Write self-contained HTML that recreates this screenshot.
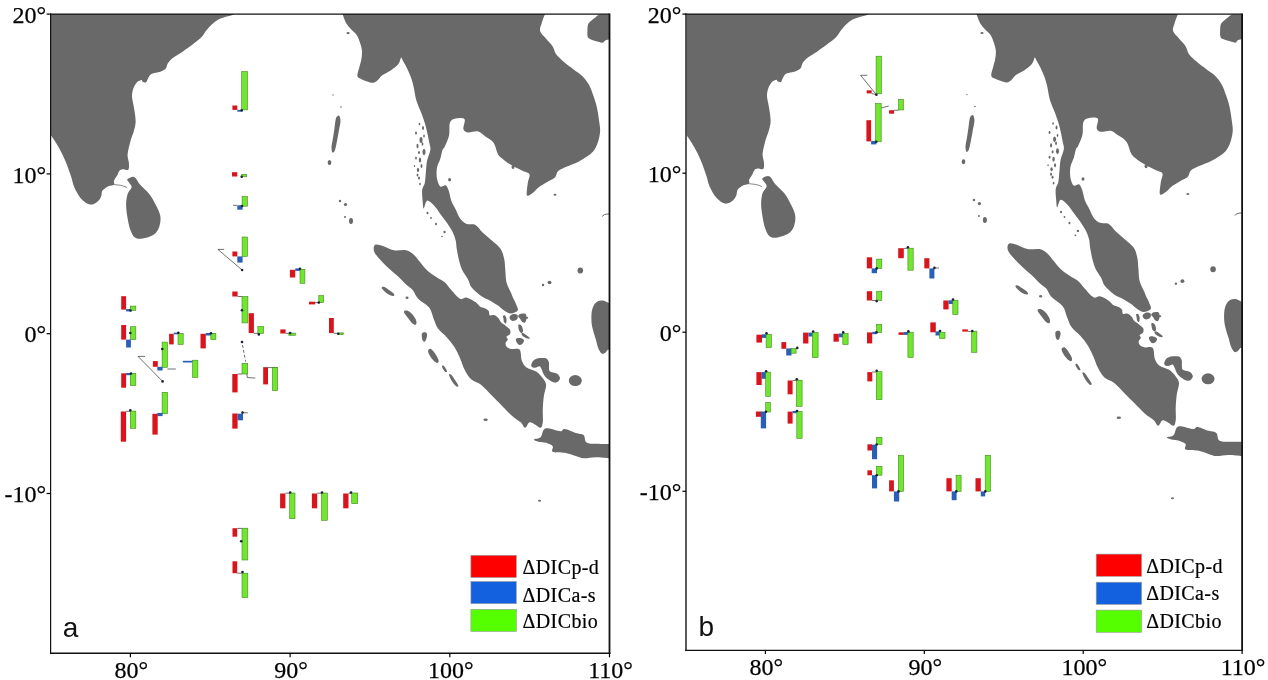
<!DOCTYPE html>
<html><head><meta charset="utf-8"><title>Indian Ocean DIC components</title>
<style>
html,body{margin:0;padding:0;background:#fff}
svg{display:block}
.ax{font-family:"Liberation Serif",serif;font-size:24px;fill:#000;stroke:#000;stroke-width:0.25px}
.lg{font-family:"Liberation Serif",serif;font-size:20px;letter-spacing:0.4px;fill:#000;stroke:#000;stroke-width:0.2px}
.pl{font-family:"Liberation Sans",sans-serif;font-size:28px;fill:#111}
</style></head><body>
<svg width="1268" height="680" viewBox="0 0 1268 680">
<rect width="1268" height="680" fill="#fff"/>
<g><path d="M509.5 317.2C509.7 316.1 511.2 314.7 512.5 314.3C513.8 313.9 516.5 314.1 517.3 314.8C518.1 315.5 517.9 317.5 517.5 318.5C517.1 319.5 516.0 320.2 515.0 320.6C514.0 321.0 512.4 321.2 511.5 320.6C510.6 320.0 509.3 318.2 509.5 317.2Z M518.2 316.5C518.2 315.8 518.8 314.4 520.0 314.0C521.2 313.6 524.2 313.1 525.3 313.8C526.4 314.5 526.6 316.6 526.6 318.0C526.6 319.4 525.8 321.9 525.0 322.5C524.2 323.1 522.6 322.2 521.8 321.5C521.0 320.8 520.6 319.3 520.0 318.5C519.4 317.7 518.2 317.2 518.2 316.5Z M503.0 316.0C503.2 315.4 504.4 315.1 505.0 315.6C505.6 316.1 506.3 317.7 506.5 319.0C506.7 320.3 506.4 323.0 506.0 323.5C505.6 324.0 504.4 322.8 504.0 322.0C503.6 321.2 503.7 320.0 503.5 319.0C503.3 318.0 502.8 316.6 503.0 316.0Z M518.3 325.0C518.6 324.1 520.5 324.7 521.3 325.5C522.1 326.3 522.9 328.8 523.0 330.0C523.1 331.2 522.6 332.8 522.0 333.0C521.4 333.2 519.9 332.3 519.3 331.0C518.7 329.7 518.0 325.9 518.3 325.0Z M521.4 334.0C521.3 333.4 522.2 332.6 523.5 333.2C524.8 333.8 528.6 336.6 529.4 337.5C530.2 338.4 529.4 338.9 528.5 338.8C527.6 338.7 525.2 337.8 524.0 337.0C522.8 336.2 521.5 334.6 521.4 334.0Z M515.8 339.2C516.1 338.1 518.6 337.8 520.0 338.0C521.4 338.2 523.7 339.2 524.0 340.2C524.3 341.2 523.0 343.5 522.0 344.2C521.0 344.9 519.3 345.3 518.3 344.5C517.3 343.7 515.5 340.3 515.8 339.2Z M50.6 14.1L233.0 14.1C233.0 14.2 235.6 13.8 233.0 14.8C230.4 15.8 221.8 17.6 217.6 19.9C213.4 22.2 210.3 25.9 207.7 28.7C205.1 31.5 204.2 34.1 202.0 36.5C199.8 38.9 197.7 40.4 194.4 43.0C191.1 45.6 185.8 49.5 182.3 51.9C178.8 54.3 175.9 55.6 173.5 57.4C171.1 59.2 169.3 61.1 168.0 62.9C166.7 64.7 167.1 66.9 165.8 68.4C164.5 69.9 162.7 70.8 160.3 71.7C157.9 72.6 153.5 72.8 151.4 73.9C149.3 75.0 148.9 77.0 148.0 78.4C147.1 79.8 146.9 81.8 146.0 82.3C145.1 82.8 143.3 82.1 142.6 81.7C141.8 81.3 142.4 79.9 141.5 80.0C140.6 80.1 138.3 80.9 137.0 82.3C135.7 83.7 134.2 86.0 133.4 88.3C132.6 90.6 132.0 93.2 132.0 96.0C132.0 98.8 132.9 101.9 133.4 104.8C133.9 107.7 134.5 110.6 134.9 113.6C135.3 116.5 135.8 119.5 135.6 122.5C135.4 125.5 134.7 128.2 133.8 131.3C133.0 134.4 131.5 137.2 130.5 141.0C129.5 144.8 127.9 150.6 127.6 154.3C127.3 158.0 128.8 160.4 128.9 163.0C129.0 165.6 129.3 168.6 128.3 169.7C127.3 170.8 124.3 169.1 122.8 169.3C121.3 169.5 120.4 169.8 119.5 170.8C118.6 171.8 118.2 173.5 117.3 175.2C116.4 176.8 114.5 179.1 114.0 180.7C113.5 182.3 114.9 183.8 114.0 184.7C113.1 185.6 110.3 185.2 108.4 186.2C106.5 187.2 103.7 188.9 102.5 190.6C101.3 192.3 102.0 194.3 101.2 196.2C100.4 198.0 99.3 200.3 97.4 201.7C95.5 203.1 92.5 205.1 89.7 204.5C87.0 203.9 83.5 201.3 80.9 198.4C78.3 195.5 76.0 191.0 74.3 187.3C72.6 183.6 72.5 180.7 71.0 176.3C69.5 171.9 67.4 165.7 65.4 160.9C63.4 156.1 61.1 151.7 58.8 147.6C56.5 143.5 53.2 138.7 51.8 136.6C50.4 134.5 50.8 135.3 50.6 135.0L50.6 14.1Z M127.2 179.6C127.4 178.7 129.2 177.8 130.5 177.4C131.8 177.0 133.2 176.1 134.9 177.4C136.6 178.7 138.0 182.3 140.4 185.1C142.8 187.9 146.6 190.7 149.2 194.0C151.8 197.3 154.0 201.3 155.8 205.0C157.7 208.7 159.7 212.3 160.3 216.0C160.9 219.7 160.3 223.9 159.2 227.0C158.1 230.1 156.4 232.8 153.6 234.7C150.8 236.6 145.7 238.0 142.6 238.5C139.5 239.0 136.9 239.0 134.9 237.6C132.9 236.2 131.7 233.5 130.5 230.3C129.3 227.1 128.3 222.4 127.6 218.2C126.9 214.0 126.1 209.0 126.1 205.0C126.1 201.0 126.7 196.9 127.6 194.0C128.5 191.1 131.3 189.2 131.6 187.3C131.9 185.5 130.1 184.2 129.4 182.9C128.7 181.6 127.0 180.5 127.2 179.6Z M342.5 14.1C343.1 15.6 344.7 20.6 346.2 23.2C347.7 25.8 349.8 27.8 351.5 29.8C353.2 31.8 355.3 32.9 356.7 35.1C358.1 37.3 359.2 40.5 360.1 43.1C361.0 45.8 361.8 48.4 362.0 51.0C362.2 53.6 361.8 56.2 361.4 58.9C361.0 61.5 360.1 64.0 359.4 66.9C358.7 69.8 357.0 74.0 357.4 76.1C357.8 78.2 359.5 78.3 362.0 79.4C364.5 80.5 370.0 82.7 372.6 82.8C375.2 82.9 376.3 81.3 377.9 80.1C379.4 78.9 379.7 77.2 381.9 75.5C384.1 73.8 388.6 71.9 391.1 70.2C393.6 68.5 395.7 67.0 397.1 65.6C398.5 64.2 399.0 62.9 399.7 61.6C400.4 60.3 400.6 57.7 401.1 57.6C401.7 57.5 402.0 59.1 403.0 60.9C404.0 62.7 405.7 65.4 407.0 68.2C408.3 71.0 409.9 74.4 411.0 77.5C412.1 80.6 412.7 82.9 413.6 86.7C414.5 90.5 415.0 95.7 416.3 100.2C417.6 104.7 419.9 109.1 421.5 113.6C423.1 118.0 424.6 122.1 425.9 126.9C427.2 131.7 428.5 138.5 429.2 142.3C429.9 146.2 430.7 146.9 430.3 150.0C429.9 153.1 427.7 157.3 427.0 161.0C426.3 164.7 426.3 168.3 425.9 172.0C425.5 175.7 425.4 180.1 424.8 183.0C424.2 185.9 422.6 186.8 422.2 189.7C421.8 192.6 422.4 197.6 422.6 200.7C422.9 203.8 423.0 208.4 423.7 208.4C424.4 208.4 425.4 201.2 427.0 200.7C428.6 200.1 431.4 202.9 433.6 205.1C435.8 207.3 438.1 210.9 440.3 213.9C442.5 216.9 444.9 219.9 446.9 222.8C448.9 225.8 450.9 228.7 452.4 231.6C453.9 234.5 455.0 237.5 455.7 240.4C456.4 243.3 456.2 245.9 456.8 249.2C457.4 252.5 458.1 256.8 459.0 260.3C459.9 263.8 460.8 267.1 462.3 270.2C463.8 273.3 466.3 276.2 467.8 279.0C469.3 281.8 469.5 284.3 471.1 286.7C472.8 289.1 475.5 291.4 477.7 293.3C479.9 295.2 482.5 296.9 484.4 298.0C486.2 299.1 486.6 298.7 488.8 299.9C491.0 301.1 495.1 303.5 497.6 305.2C500.1 306.9 501.9 309.0 503.8 310.3C505.7 311.6 507.4 312.8 509.1 313.2C510.8 313.6 512.5 313.3 514.0 312.8C515.5 312.3 517.6 311.5 517.9 310.0C518.2 308.5 516.7 305.9 516.0 304.0C515.3 302.1 514.4 300.7 513.5 298.8C512.6 296.9 512.1 295.3 510.9 292.5C509.7 289.7 507.3 285.8 506.4 282.0C505.5 278.2 505.7 273.8 505.3 270.0C504.9 266.2 505.0 262.5 504.2 259.0C503.4 255.5 502.6 251.9 500.5 248.8C498.4 245.7 494.5 243.0 491.5 240.3C488.5 237.6 485.3 235.2 482.6 232.6C479.9 230.0 478.1 226.4 475.5 225.0C472.9 223.6 469.3 225.0 466.7 223.9C464.1 222.8 461.9 220.8 460.1 218.4C458.3 216.0 457.2 212.4 455.7 209.5C454.2 206.6 452.4 203.6 451.3 200.7C450.2 197.8 450.0 194.5 449.1 191.9C448.2 189.3 447.3 186.2 445.8 185.3C444.3 184.4 441.8 187.5 440.3 186.4C438.8 185.3 437.6 181.8 437.0 178.7C436.4 175.6 436.4 170.9 437.0 167.6C437.6 164.3 439.4 161.7 440.3 158.8C441.2 155.9 441.8 152.0 442.5 150.0C443.2 148.0 443.6 149.1 444.7 146.7C445.8 144.3 448.1 139.7 449.0 135.7C449.9 131.7 448.9 125.4 450.0 122.5C451.1 119.6 453.3 119.0 455.7 118.5C458.1 118.0 463.2 117.5 464.5 119.2C465.8 121.0 462.8 126.8 463.4 129.0C463.9 131.2 465.4 132.0 467.8 132.4C470.2 132.8 474.9 130.8 477.7 131.3C480.5 131.9 481.8 133.9 484.4 135.7C487.0 137.5 491.0 139.4 493.2 142.3C495.4 145.2 496.5 150.9 497.6 153.3C498.7 155.7 498.3 155.2 499.8 156.6C501.3 158.0 504.0 160.3 506.4 162.0C508.8 163.7 511.2 165.0 514.0 166.5C516.8 168.0 520.4 169.7 523.0 171.0C525.6 172.3 528.7 172.3 529.5 174.3C530.3 176.3 528.2 179.5 527.8 183.0C527.4 186.5 526.1 193.5 526.9 195.2C527.7 196.9 530.9 194.3 532.8 193.0C534.7 191.7 536.0 189.3 538.4 187.5C540.8 185.7 544.5 183.7 547.2 182.0C550.0 180.3 553.1 179.4 554.9 177.6C556.7 175.8 556.2 172.8 558.2 171.0C560.2 169.2 563.7 168.0 567.0 166.5C570.3 165.0 574.7 163.7 578.0 162.0C581.3 160.3 584.3 158.4 586.9 156.6C589.5 154.8 591.7 153.5 593.5 151.1C595.3 148.7 596.8 145.6 597.9 142.3C599.0 139.0 599.9 135.0 600.1 131.3C600.3 127.6 599.5 124.3 599.0 120.3C598.5 116.2 597.7 111.0 596.8 107.0C595.9 103.0 594.8 99.7 593.5 96.0C592.2 92.3 590.9 88.3 589.1 85.0C587.3 81.7 585.1 78.8 582.5 76.2C579.9 73.6 576.7 71.9 573.6 69.5C570.5 67.1 566.6 64.4 563.7 61.8C560.8 59.2 557.8 56.7 556.0 54.1C554.2 51.5 554.4 49.0 552.7 46.4C551.1 43.8 548.2 41.3 546.1 38.7C544.0 36.1 540.8 33.5 540.1 30.9C539.4 28.3 540.9 26.0 541.7 23.2C542.5 20.4 544.5 15.6 545.0 14.1L342.5 14.1Z M600.0 14.6C597.7 15.0 597.0 16.2 595.6 17.2C594.2 18.2 592.8 19.3 591.5 20.5C590.2 21.7 588.8 22.6 588.1 24.3C587.4 26.1 587.5 28.9 587.4 31.0C587.3 33.1 587.2 35.6 587.8 37.0C588.4 38.4 589.7 38.8 591.0 39.5C592.3 40.2 593.7 40.5 595.6 41.0C597.5 41.5 601.0 42.9 602.6 42.8C604.2 42.7 604.1 41.1 605.3 40.5C606.4 39.9 608.8 39.4 609.5 39.2L609.5 14.6C607.9 14.6 602.3 14.2 600.0 14.6Z M375.2 244.8C376.7 243.9 379.8 245.0 382.9 245.9C386.0 246.8 390.0 249.6 393.9 250.3C397.8 251.0 402.8 249.6 406.1 250.3C409.4 251.0 411.4 252.7 413.8 254.7C416.2 256.7 418.2 259.9 420.4 262.5C422.6 265.1 424.4 267.8 427.0 270.2C429.6 272.6 432.9 274.8 435.8 276.8C438.8 278.8 442.1 280.1 444.7 282.3C447.3 284.5 448.7 287.2 451.3 290.0C453.9 292.8 457.5 297.5 460.1 298.8C462.7 300.1 464.1 297.1 466.7 297.7C469.3 298.2 473.3 300.6 475.5 302.1C477.7 303.6 478.4 305.4 480.0 306.5C481.6 307.6 483.8 307.7 485.3 308.5C486.8 309.3 488.1 310.1 488.8 311.2C489.5 312.3 488.8 314.5 489.7 315.2C490.6 315.9 492.6 314.6 494.1 315.1C495.6 315.6 497.3 316.9 498.5 318.2C499.7 319.4 500.0 321.4 501.2 322.6C502.4 323.9 504.1 324.5 505.6 325.7C507.1 326.9 509.3 328.3 510.0 329.7C510.7 331.1 510.6 332.9 510.0 334.1C509.4 335.3 506.9 335.8 506.5 336.7C506.1 337.6 507.9 338.4 507.8 339.4C507.7 340.4 505.8 341.7 505.6 342.9C505.4 344.1 505.6 345.4 506.5 346.4C507.4 347.4 508.8 348.5 511.0 349.0C513.2 349.5 517.8 347.6 519.6 349.5C521.4 351.4 520.7 357.7 521.8 360.6C522.9 363.6 523.8 365.4 526.2 367.2C528.6 369.0 533.4 369.8 536.2 371.6C539.0 373.4 541.1 376.0 542.8 378.2C544.4 380.4 545.9 381.9 546.1 384.8C546.3 387.7 544.5 391.8 543.9 395.8C543.3 399.9 543.0 404.7 542.8 409.1C542.6 413.5 543.2 419.2 542.8 422.3C542.4 425.4 541.9 427.4 540.6 427.8C539.3 428.2 536.9 425.4 535.0 424.5C533.1 423.6 531.1 421.8 529.5 422.3C527.9 422.9 526.6 427.8 525.1 427.8C523.6 427.8 522.9 424.3 520.7 422.3C518.5 420.3 515.2 418.6 511.9 415.7C508.6 412.8 504.2 408.0 500.9 404.7C497.6 401.4 495.3 399.1 492.0 395.8C488.7 392.5 484.5 387.6 481.0 384.8C477.5 382.1 473.9 381.9 471.1 379.3C468.4 376.7 466.3 372.9 464.5 369.4C462.7 365.9 461.8 362.1 460.1 358.4C458.5 354.7 456.8 350.8 454.6 347.3C452.4 343.8 449.7 340.5 446.9 337.4C444.1 334.3 440.2 331.7 438.0 328.6C435.8 325.5 435.1 322.2 433.6 318.7C432.1 315.2 431.8 310.9 429.2 307.6C426.6 304.3 420.9 301.7 418.2 298.8C415.4 295.9 414.7 292.4 412.7 290.0C410.7 287.6 408.5 286.7 406.1 284.5C403.7 282.3 401.2 279.4 398.4 276.8C395.6 274.2 392.4 271.9 389.5 269.1C386.6 266.4 383.3 263.2 380.7 260.3C378.1 257.4 375.0 254.0 374.1 251.4C373.2 248.8 373.7 245.7 375.2 244.8Z M543.9 429.6C545.4 428.1 546.6 428.2 549.4 428.5C552.1 428.8 557.8 431.1 560.4 431.2C563.0 431.3 562.2 428.7 564.8 429.0C567.4 429.3 572.7 431.9 575.8 432.9C578.9 433.9 581.8 433.5 583.6 435.1C585.5 436.8 584.1 441.3 586.9 442.8C589.6 444.3 596.3 443.7 600.1 443.9C603.9 444.1 607.9 443.9 609.5 443.9L609.5 458.3C607.2 458.1 600.0 457.2 595.7 457.2C591.4 457.2 586.9 458.5 583.6 458.3C580.3 458.1 578.9 457.0 575.8 456.1C572.7 455.2 568.6 453.5 564.8 452.8C560.9 452.1 554.7 452.8 552.7 451.7C550.7 450.6 553.8 447.7 552.7 446.2C551.6 444.7 548.5 443.6 546.1 442.8C543.7 442.1 540.4 442.2 538.4 441.7C536.4 441.1 533.5 440.2 533.9 439.5C534.3 438.8 538.9 438.9 540.6 437.3C542.3 435.7 542.4 431.1 543.9 429.6Z M603.0 300.5C601.0 300.2 599.1 300.6 597.5 301.5C595.9 302.4 594.5 304.1 593.5 306.0C592.5 307.9 591.9 310.2 591.6 313.0C591.3 315.8 591.3 319.8 591.6 323.0C591.9 326.2 592.8 329.2 593.5 332.0C594.2 334.8 595.2 337.4 596.0 340.0C596.8 342.6 597.1 345.2 598.0 347.5C598.9 349.8 600.3 352.6 601.5 353.5C602.7 354.4 604.0 353.6 605.0 353.0C606.0 352.4 606.8 350.6 607.5 350.0C608.2 349.4 609.2 349.6 609.5 349.5L609.5 303.5C608.4 303.0 605.0 300.8 603.0 300.5Z M531.2 365.5C531.2 364.4 532.0 362.1 533.0 361.0C534.0 359.9 535.5 359.1 537.0 358.6C538.5 358.1 540.4 358.0 542.0 358.0C543.6 358.0 545.4 357.9 546.5 358.6C547.6 359.3 548.4 360.6 548.8 362.0C549.2 363.4 548.9 365.5 549.0 367.0C549.1 368.5 548.8 370.1 549.5 371.0C550.2 371.9 551.7 372.0 553.0 372.5C554.3 373.0 556.3 373.1 557.5 374.0C558.7 374.9 559.9 376.8 560.0 378.0C560.1 379.2 558.9 380.7 558.0 381.5C557.1 382.3 555.8 382.8 554.5 382.6C553.2 382.4 551.3 381.3 550.0 380.5C548.7 379.7 547.6 379.1 546.5 378.0C545.4 376.9 544.3 375.5 543.5 374.0C542.7 372.5 542.2 370.3 541.5 369.0C540.8 367.7 540.4 366.6 539.5 366.3C538.6 366.1 537.1 367.3 536.0 367.5C534.9 367.7 533.8 367.8 533.0 367.5C532.2 367.2 531.2 366.6 531.2 365.5Z M381.8 288.2C381.3 287.1 382.8 286.5 384.0 286.8C385.2 287.1 387.3 288.8 389.0 290.0C390.7 291.2 393.3 293.0 394.0 294.0C394.7 295.0 394.2 296.1 393.0 296.0C391.8 295.9 388.9 294.8 387.0 293.5C385.1 292.2 382.3 289.3 381.8 288.2Z M403.9 312.0C403.7 310.8 405.6 310.2 407.0 310.5C408.4 310.8 410.5 312.4 412.0 314.0C413.5 315.6 415.3 318.2 416.0 320.0C416.7 321.8 416.6 323.9 416.0 324.5C415.4 325.1 413.8 324.6 412.5 323.5C411.2 322.4 409.4 319.9 408.0 318.0C406.6 316.1 404.1 313.2 403.9 312.0Z M422.0 333.5C422.6 332.2 425.2 332.1 426.0 332.5C426.8 332.9 427.2 334.5 427.0 336.0C426.8 337.5 425.8 340.8 425.0 341.5C424.2 342.2 423.0 341.3 422.5 340.0C422.0 338.7 421.4 334.8 422.0 333.5Z M428.1 350.5C428.4 349.5 429.9 348.5 431.0 349.0C432.1 349.5 433.8 351.7 435.0 353.5C436.2 355.3 438.1 358.4 438.5 360.0C438.9 361.6 438.3 362.9 437.5 363.0C436.7 363.1 434.8 361.8 433.5 360.5C432.2 359.2 430.4 356.7 429.5 355.0C428.6 353.3 427.9 351.5 428.1 350.5Z M442.0 366.0C442.2 365.5 443.2 365.2 444.0 366.0C444.8 366.8 446.8 370.0 447.0 371.0C447.2 372.0 446.2 372.3 445.5 372.0C444.8 371.7 443.6 370.0 443.0 369.0C442.4 368.0 441.8 366.5 442.0 366.0Z M449.0 375.0C448.8 373.8 450.0 373.7 451.0 374.5C452.0 375.3 453.8 378.2 455.0 380.0C456.2 381.8 458.1 384.4 458.3 385.5C458.6 386.6 457.5 387.1 456.5 386.5C455.5 385.9 453.8 383.9 452.5 382.0C451.2 380.1 449.2 376.2 449.0 375.0Z M336.6 117.0C337.2 116.3 338.6 115.1 339.2 115.8C339.8 116.5 340.5 118.6 340.5 121.0C340.5 123.4 339.6 126.8 339.0 130.0C338.4 133.2 337.9 136.7 337.2 140.0C336.5 143.3 335.8 147.9 335.0 150.0C334.2 152.1 333.1 153.0 332.5 152.5C331.9 152.0 331.4 149.4 331.5 147.0C331.6 144.6 332.5 141.2 333.0 138.0C333.5 134.8 334.1 131.0 334.5 128.0C334.9 125.0 335.2 121.8 335.6 120.0C336.0 118.2 336.0 117.7 336.6 117.0Z" fill="#696969"/><ellipse cx="417.5" cy="146" rx="1" ry="2.2" fill="#696969"/><ellipse cx="422.5" cy="144" rx="0.9" ry="1.8" fill="#696969"/><ellipse cx="419" cy="152.5" rx="1" ry="1.6" fill="#696969"/><ellipse cx="416" cy="158" rx="0.9" ry="1.5" fill="#696969"/><ellipse cx="421.5" cy="166" rx="1" ry="2" fill="#696969"/><ellipse cx="417.5" cy="175" rx="0.9" ry="1.6" fill="#696969"/><ellipse cx="420" cy="184" rx="0.8" ry="1.3" fill="#696969"/><ellipse cx="414.5" cy="166" rx="0.7" ry="1" fill="#696969"/><ellipse cx="424" cy="136" rx="0.8" ry="1.5" fill="#696969"/><ellipse cx="419.5" cy="124" rx="0.8" ry="1.3" fill="#696969"/><ellipse cx="427.5" cy="213" rx="1" ry="1.3" fill="#696969"/><ellipse cx="431" cy="218" rx="0.9" ry="1.1" fill="#696969"/><ellipse cx="436" cy="224" rx="1" ry="1.2" fill="#696969"/><ellipse cx="444.5" cy="232" rx="1.2" ry="1.2" fill="#696969"/><ellipse cx="442" cy="236.5" rx="0.8" ry="0.8" fill="#696969"/><ellipse cx="348.1" cy="33.1" rx="1.6" ry="1.1" fill="#696969"/><ellipse cx="575.3" cy="380.6" rx="6.5" ry="5.5" fill="#696969"/><ellipse cx="329.5" cy="162.5" rx="1.8" ry="2.5" fill="#696969"/><ellipse cx="351" cy="221" rx="2" ry="3" fill="#696969"/><ellipse cx="345.5" cy="204.5" rx="1.6" ry="1.6" fill="#696969"/><ellipse cx="340" cy="201" rx="1.2" ry="1.2" fill="#696969"/><ellipse cx="345" cy="217" rx="1" ry="1" fill="#696969"/><ellipse cx="580.3" cy="270.5" rx="2.8" ry="3" fill="#696969"/><ellipse cx="549.5" cy="282.5" rx="2" ry="1.8" fill="#696969"/><ellipse cx="543" cy="285" rx="1.2" ry="1.2" fill="#696969"/><ellipse cx="555" cy="194.8" rx="1.5" ry="1" fill="#696969"/><ellipse cx="485.6" cy="419.8" rx="2.2" ry="1.3" fill="#696969"/><ellipse cx="539.5" cy="500.8" rx="1.5" ry="1" fill="#696969"/><ellipse cx="407" cy="297.7" rx="1.5" ry="1.2" fill="#696969"/><ellipse cx="506.4" cy="157.7" rx="1.6" ry="2.2" fill="#696969"/><ellipse cx="513" cy="167" rx="1.5" ry="2" fill="#696969"/><ellipse cx="527" cy="317.8" rx="1.2" ry="1" fill="#696969"/><ellipse cx="421" cy="140" rx="1.5" ry="3" fill="#696969"/><ellipse cx="424" cy="152" rx="1.5" ry="3" fill="#696969"/><ellipse cx="420" cy="160" rx="1.2" ry="2.5" fill="#696969"/><ellipse cx="418" cy="170" rx="1.2" ry="2" fill="#696969"/><ellipse cx="416" cy="133" rx="1" ry="1.5" fill="#696969"/><ellipse cx="423" cy="128" rx="1" ry="2" fill="#696969"/><ellipse cx="419" cy="178" rx="1" ry="1.5" fill="#696969"/><ellipse cx="450" cy="222" rx="1" ry="1.5" fill="#696969"/><ellipse cx="449.6" cy="179.8" rx="1.5" ry="1.8" fill="#696969"/><ellipse cx="341" cy="107" rx="0.8" ry="0.8" fill="#696969"/><ellipse cx="333" cy="95" rx="0.7" ry="0.7" fill="#696969"/><path d="M602.3 216.6Q603.5 214 609 214" stroke="#555" stroke-width="0.9" fill="none"/><path d="M114 184.6L120 185.2L124 186.2L127 187.5" stroke="#696969" stroke-width="0.8" fill="none"/></g>
<g transform="translate(686.0 14.1) scale(0.99499) translate(-50.6 -14.1)"><path d="M509.5 317.2C509.7 316.1 511.2 314.7 512.5 314.3C513.8 313.9 516.5 314.1 517.3 314.8C518.1 315.5 517.9 317.5 517.5 318.5C517.1 319.5 516.0 320.2 515.0 320.6C514.0 321.0 512.4 321.2 511.5 320.6C510.6 320.0 509.3 318.2 509.5 317.2Z M518.2 316.5C518.2 315.8 518.8 314.4 520.0 314.0C521.2 313.6 524.2 313.1 525.3 313.8C526.4 314.5 526.6 316.6 526.6 318.0C526.6 319.4 525.8 321.9 525.0 322.5C524.2 323.1 522.6 322.2 521.8 321.5C521.0 320.8 520.6 319.3 520.0 318.5C519.4 317.7 518.2 317.2 518.2 316.5Z M503.0 316.0C503.2 315.4 504.4 315.1 505.0 315.6C505.6 316.1 506.3 317.7 506.5 319.0C506.7 320.3 506.4 323.0 506.0 323.5C505.6 324.0 504.4 322.8 504.0 322.0C503.6 321.2 503.7 320.0 503.5 319.0C503.3 318.0 502.8 316.6 503.0 316.0Z M518.3 325.0C518.6 324.1 520.5 324.7 521.3 325.5C522.1 326.3 522.9 328.8 523.0 330.0C523.1 331.2 522.6 332.8 522.0 333.0C521.4 333.2 519.9 332.3 519.3 331.0C518.7 329.7 518.0 325.9 518.3 325.0Z M521.4 334.0C521.3 333.4 522.2 332.6 523.5 333.2C524.8 333.8 528.6 336.6 529.4 337.5C530.2 338.4 529.4 338.9 528.5 338.8C527.6 338.7 525.2 337.8 524.0 337.0C522.8 336.2 521.5 334.6 521.4 334.0Z M515.8 339.2C516.1 338.1 518.6 337.8 520.0 338.0C521.4 338.2 523.7 339.2 524.0 340.2C524.3 341.2 523.0 343.5 522.0 344.2C521.0 344.9 519.3 345.3 518.3 344.5C517.3 343.7 515.5 340.3 515.8 339.2Z M50.6 14.1L233.0 14.1C233.0 14.2 235.6 13.8 233.0 14.8C230.4 15.8 221.8 17.6 217.6 19.9C213.4 22.2 210.3 25.9 207.7 28.7C205.1 31.5 204.2 34.1 202.0 36.5C199.8 38.9 197.7 40.4 194.4 43.0C191.1 45.6 185.8 49.5 182.3 51.9C178.8 54.3 175.9 55.6 173.5 57.4C171.1 59.2 169.3 61.1 168.0 62.9C166.7 64.7 167.1 66.9 165.8 68.4C164.5 69.9 162.7 70.8 160.3 71.7C157.9 72.6 153.5 72.8 151.4 73.9C149.3 75.0 148.9 77.0 148.0 78.4C147.1 79.8 146.9 81.8 146.0 82.3C145.1 82.8 143.3 82.1 142.6 81.7C141.8 81.3 142.4 79.9 141.5 80.0C140.6 80.1 138.3 80.9 137.0 82.3C135.7 83.7 134.2 86.0 133.4 88.3C132.6 90.6 132.0 93.2 132.0 96.0C132.0 98.8 132.9 101.9 133.4 104.8C133.9 107.7 134.5 110.6 134.9 113.6C135.3 116.5 135.8 119.5 135.6 122.5C135.4 125.5 134.7 128.2 133.8 131.3C133.0 134.4 131.5 137.2 130.5 141.0C129.5 144.8 127.9 150.6 127.6 154.3C127.3 158.0 128.8 160.4 128.9 163.0C129.0 165.6 129.3 168.6 128.3 169.7C127.3 170.8 124.3 169.1 122.8 169.3C121.3 169.5 120.4 169.8 119.5 170.8C118.6 171.8 118.2 173.5 117.3 175.2C116.4 176.8 114.5 179.1 114.0 180.7C113.5 182.3 114.9 183.8 114.0 184.7C113.1 185.6 110.3 185.2 108.4 186.2C106.5 187.2 103.7 188.9 102.5 190.6C101.3 192.3 102.0 194.3 101.2 196.2C100.4 198.0 99.3 200.3 97.4 201.7C95.5 203.1 92.5 205.1 89.7 204.5C87.0 203.9 83.5 201.3 80.9 198.4C78.3 195.5 76.0 191.0 74.3 187.3C72.6 183.6 72.5 180.7 71.0 176.3C69.5 171.9 67.4 165.7 65.4 160.9C63.4 156.1 61.1 151.7 58.8 147.6C56.5 143.5 53.2 138.7 51.8 136.6C50.4 134.5 50.8 135.3 50.6 135.0L50.6 14.1Z M127.2 179.6C127.4 178.7 129.2 177.8 130.5 177.4C131.8 177.0 133.2 176.1 134.9 177.4C136.6 178.7 138.0 182.3 140.4 185.1C142.8 187.9 146.6 190.7 149.2 194.0C151.8 197.3 154.0 201.3 155.8 205.0C157.7 208.7 159.7 212.3 160.3 216.0C160.9 219.7 160.3 223.9 159.2 227.0C158.1 230.1 156.4 232.8 153.6 234.7C150.8 236.6 145.7 238.0 142.6 238.5C139.5 239.0 136.9 239.0 134.9 237.6C132.9 236.2 131.7 233.5 130.5 230.3C129.3 227.1 128.3 222.4 127.6 218.2C126.9 214.0 126.1 209.0 126.1 205.0C126.1 201.0 126.7 196.9 127.6 194.0C128.5 191.1 131.3 189.2 131.6 187.3C131.9 185.5 130.1 184.2 129.4 182.9C128.7 181.6 127.0 180.5 127.2 179.6Z M342.5 14.1C343.1 15.6 344.7 20.6 346.2 23.2C347.7 25.8 349.8 27.8 351.5 29.8C353.2 31.8 355.3 32.9 356.7 35.1C358.1 37.3 359.2 40.5 360.1 43.1C361.0 45.8 361.8 48.4 362.0 51.0C362.2 53.6 361.8 56.2 361.4 58.9C361.0 61.5 360.1 64.0 359.4 66.9C358.7 69.8 357.0 74.0 357.4 76.1C357.8 78.2 359.5 78.3 362.0 79.4C364.5 80.5 370.0 82.7 372.6 82.8C375.2 82.9 376.3 81.3 377.9 80.1C379.4 78.9 379.7 77.2 381.9 75.5C384.1 73.8 388.6 71.9 391.1 70.2C393.6 68.5 395.7 67.0 397.1 65.6C398.5 64.2 399.0 62.9 399.7 61.6C400.4 60.3 400.6 57.7 401.1 57.6C401.7 57.5 402.0 59.1 403.0 60.9C404.0 62.7 405.7 65.4 407.0 68.2C408.3 71.0 409.9 74.4 411.0 77.5C412.1 80.6 412.7 82.9 413.6 86.7C414.5 90.5 415.0 95.7 416.3 100.2C417.6 104.7 419.9 109.1 421.5 113.6C423.1 118.0 424.6 122.1 425.9 126.9C427.2 131.7 428.5 138.5 429.2 142.3C429.9 146.2 430.7 146.9 430.3 150.0C429.9 153.1 427.7 157.3 427.0 161.0C426.3 164.7 426.3 168.3 425.9 172.0C425.5 175.7 425.4 180.1 424.8 183.0C424.2 185.9 422.6 186.8 422.2 189.7C421.8 192.6 422.4 197.6 422.6 200.7C422.9 203.8 423.0 208.4 423.7 208.4C424.4 208.4 425.4 201.2 427.0 200.7C428.6 200.1 431.4 202.9 433.6 205.1C435.8 207.3 438.1 210.9 440.3 213.9C442.5 216.9 444.9 219.9 446.9 222.8C448.9 225.8 450.9 228.7 452.4 231.6C453.9 234.5 455.0 237.5 455.7 240.4C456.4 243.3 456.2 245.9 456.8 249.2C457.4 252.5 458.1 256.8 459.0 260.3C459.9 263.8 460.8 267.1 462.3 270.2C463.8 273.3 466.3 276.2 467.8 279.0C469.3 281.8 469.5 284.3 471.1 286.7C472.8 289.1 475.5 291.4 477.7 293.3C479.9 295.2 482.5 296.9 484.4 298.0C486.2 299.1 486.6 298.7 488.8 299.9C491.0 301.1 495.1 303.5 497.6 305.2C500.1 306.9 501.9 309.0 503.8 310.3C505.7 311.6 507.4 312.8 509.1 313.2C510.8 313.6 512.5 313.3 514.0 312.8C515.5 312.3 517.6 311.5 517.9 310.0C518.2 308.5 516.7 305.9 516.0 304.0C515.3 302.1 514.4 300.7 513.5 298.8C512.6 296.9 512.1 295.3 510.9 292.5C509.7 289.7 507.3 285.8 506.4 282.0C505.5 278.2 505.7 273.8 505.3 270.0C504.9 266.2 505.0 262.5 504.2 259.0C503.4 255.5 502.6 251.9 500.5 248.8C498.4 245.7 494.5 243.0 491.5 240.3C488.5 237.6 485.3 235.2 482.6 232.6C479.9 230.0 478.1 226.4 475.5 225.0C472.9 223.6 469.3 225.0 466.7 223.9C464.1 222.8 461.9 220.8 460.1 218.4C458.3 216.0 457.2 212.4 455.7 209.5C454.2 206.6 452.4 203.6 451.3 200.7C450.2 197.8 450.0 194.5 449.1 191.9C448.2 189.3 447.3 186.2 445.8 185.3C444.3 184.4 441.8 187.5 440.3 186.4C438.8 185.3 437.6 181.8 437.0 178.7C436.4 175.6 436.4 170.9 437.0 167.6C437.6 164.3 439.4 161.7 440.3 158.8C441.2 155.9 441.8 152.0 442.5 150.0C443.2 148.0 443.6 149.1 444.7 146.7C445.8 144.3 448.1 139.7 449.0 135.7C449.9 131.7 448.9 125.4 450.0 122.5C451.1 119.6 453.3 119.0 455.7 118.5C458.1 118.0 463.2 117.5 464.5 119.2C465.8 121.0 462.8 126.8 463.4 129.0C463.9 131.2 465.4 132.0 467.8 132.4C470.2 132.8 474.9 130.8 477.7 131.3C480.5 131.9 481.8 133.9 484.4 135.7C487.0 137.5 491.0 139.4 493.2 142.3C495.4 145.2 496.5 150.9 497.6 153.3C498.7 155.7 498.3 155.2 499.8 156.6C501.3 158.0 504.0 160.3 506.4 162.0C508.8 163.7 511.2 165.0 514.0 166.5C516.8 168.0 520.4 169.7 523.0 171.0C525.6 172.3 528.7 172.3 529.5 174.3C530.3 176.3 528.2 179.5 527.8 183.0C527.4 186.5 526.1 193.5 526.9 195.2C527.7 196.9 530.9 194.3 532.8 193.0C534.7 191.7 536.0 189.3 538.4 187.5C540.8 185.7 544.5 183.7 547.2 182.0C550.0 180.3 553.1 179.4 554.9 177.6C556.7 175.8 556.2 172.8 558.2 171.0C560.2 169.2 563.7 168.0 567.0 166.5C570.3 165.0 574.7 163.7 578.0 162.0C581.3 160.3 584.3 158.4 586.9 156.6C589.5 154.8 591.7 153.5 593.5 151.1C595.3 148.7 596.8 145.6 597.9 142.3C599.0 139.0 599.9 135.0 600.1 131.3C600.3 127.6 599.5 124.3 599.0 120.3C598.5 116.2 597.7 111.0 596.8 107.0C595.9 103.0 594.8 99.7 593.5 96.0C592.2 92.3 590.9 88.3 589.1 85.0C587.3 81.7 585.1 78.8 582.5 76.2C579.9 73.6 576.7 71.9 573.6 69.5C570.5 67.1 566.6 64.4 563.7 61.8C560.8 59.2 557.8 56.7 556.0 54.1C554.2 51.5 554.4 49.0 552.7 46.4C551.1 43.8 548.2 41.3 546.1 38.7C544.0 36.1 540.8 33.5 540.1 30.9C539.4 28.3 540.9 26.0 541.7 23.2C542.5 20.4 544.5 15.6 545.0 14.1L342.5 14.1Z M600.0 14.6C597.7 15.0 597.0 16.2 595.6 17.2C594.2 18.2 592.8 19.3 591.5 20.5C590.2 21.7 588.8 22.6 588.1 24.3C587.4 26.1 587.5 28.9 587.4 31.0C587.3 33.1 587.2 35.6 587.8 37.0C588.4 38.4 589.7 38.8 591.0 39.5C592.3 40.2 593.7 40.5 595.6 41.0C597.5 41.5 601.0 42.9 602.6 42.8C604.2 42.7 604.1 41.1 605.3 40.5C606.4 39.9 608.8 39.4 609.5 39.2L609.5 14.6C607.9 14.6 602.3 14.2 600.0 14.6Z M375.2 244.8C376.7 243.9 379.8 245.0 382.9 245.9C386.0 246.8 390.0 249.6 393.9 250.3C397.8 251.0 402.8 249.6 406.1 250.3C409.4 251.0 411.4 252.7 413.8 254.7C416.2 256.7 418.2 259.9 420.4 262.5C422.6 265.1 424.4 267.8 427.0 270.2C429.6 272.6 432.9 274.8 435.8 276.8C438.8 278.8 442.1 280.1 444.7 282.3C447.3 284.5 448.7 287.2 451.3 290.0C453.9 292.8 457.5 297.5 460.1 298.8C462.7 300.1 464.1 297.1 466.7 297.7C469.3 298.2 473.3 300.6 475.5 302.1C477.7 303.6 478.4 305.4 480.0 306.5C481.6 307.6 483.8 307.7 485.3 308.5C486.8 309.3 488.1 310.1 488.8 311.2C489.5 312.3 488.8 314.5 489.7 315.2C490.6 315.9 492.6 314.6 494.1 315.1C495.6 315.6 497.3 316.9 498.5 318.2C499.7 319.4 500.0 321.4 501.2 322.6C502.4 323.9 504.1 324.5 505.6 325.7C507.1 326.9 509.3 328.3 510.0 329.7C510.7 331.1 510.6 332.9 510.0 334.1C509.4 335.3 506.9 335.8 506.5 336.7C506.1 337.6 507.9 338.4 507.8 339.4C507.7 340.4 505.8 341.7 505.6 342.9C505.4 344.1 505.6 345.4 506.5 346.4C507.4 347.4 508.8 348.5 511.0 349.0C513.2 349.5 517.8 347.6 519.6 349.5C521.4 351.4 520.7 357.7 521.8 360.6C522.9 363.6 523.8 365.4 526.2 367.2C528.6 369.0 533.4 369.8 536.2 371.6C539.0 373.4 541.1 376.0 542.8 378.2C544.4 380.4 545.9 381.9 546.1 384.8C546.3 387.7 544.5 391.8 543.9 395.8C543.3 399.9 543.0 404.7 542.8 409.1C542.6 413.5 543.2 419.2 542.8 422.3C542.4 425.4 541.9 427.4 540.6 427.8C539.3 428.2 536.9 425.4 535.0 424.5C533.1 423.6 531.1 421.8 529.5 422.3C527.9 422.9 526.6 427.8 525.1 427.8C523.6 427.8 522.9 424.3 520.7 422.3C518.5 420.3 515.2 418.6 511.9 415.7C508.6 412.8 504.2 408.0 500.9 404.7C497.6 401.4 495.3 399.1 492.0 395.8C488.7 392.5 484.5 387.6 481.0 384.8C477.5 382.1 473.9 381.9 471.1 379.3C468.4 376.7 466.3 372.9 464.5 369.4C462.7 365.9 461.8 362.1 460.1 358.4C458.5 354.7 456.8 350.8 454.6 347.3C452.4 343.8 449.7 340.5 446.9 337.4C444.1 334.3 440.2 331.7 438.0 328.6C435.8 325.5 435.1 322.2 433.6 318.7C432.1 315.2 431.8 310.9 429.2 307.6C426.6 304.3 420.9 301.7 418.2 298.8C415.4 295.9 414.7 292.4 412.7 290.0C410.7 287.6 408.5 286.7 406.1 284.5C403.7 282.3 401.2 279.4 398.4 276.8C395.6 274.2 392.4 271.9 389.5 269.1C386.6 266.4 383.3 263.2 380.7 260.3C378.1 257.4 375.0 254.0 374.1 251.4C373.2 248.8 373.7 245.7 375.2 244.8Z M543.9 429.6C545.4 428.1 546.6 428.2 549.4 428.5C552.1 428.8 557.8 431.1 560.4 431.2C563.0 431.3 562.2 428.7 564.8 429.0C567.4 429.3 572.7 431.9 575.8 432.9C578.9 433.9 581.8 433.5 583.6 435.1C585.5 436.8 584.1 441.3 586.9 442.8C589.6 444.3 596.3 443.7 600.1 443.9C603.9 444.1 607.9 443.9 609.5 443.9L609.5 458.3C607.2 458.1 600.0 457.2 595.7 457.2C591.4 457.2 586.9 458.5 583.6 458.3C580.3 458.1 578.9 457.0 575.8 456.1C572.7 455.2 568.6 453.5 564.8 452.8C560.9 452.1 554.7 452.8 552.7 451.7C550.7 450.6 553.8 447.7 552.7 446.2C551.6 444.7 548.5 443.6 546.1 442.8C543.7 442.1 540.4 442.2 538.4 441.7C536.4 441.1 533.5 440.2 533.9 439.5C534.3 438.8 538.9 438.9 540.6 437.3C542.3 435.7 542.4 431.1 543.9 429.6Z M603.0 300.5C601.0 300.2 599.1 300.6 597.5 301.5C595.9 302.4 594.5 304.1 593.5 306.0C592.5 307.9 591.9 310.2 591.6 313.0C591.3 315.8 591.3 319.8 591.6 323.0C591.9 326.2 592.8 329.2 593.5 332.0C594.2 334.8 595.2 337.4 596.0 340.0C596.8 342.6 597.1 345.2 598.0 347.5C598.9 349.8 600.3 352.6 601.5 353.5C602.7 354.4 604.0 353.6 605.0 353.0C606.0 352.4 606.8 350.6 607.5 350.0C608.2 349.4 609.2 349.6 609.5 349.5L609.5 303.5C608.4 303.0 605.0 300.8 603.0 300.5Z M531.2 365.5C531.2 364.4 532.0 362.1 533.0 361.0C534.0 359.9 535.5 359.1 537.0 358.6C538.5 358.1 540.4 358.0 542.0 358.0C543.6 358.0 545.4 357.9 546.5 358.6C547.6 359.3 548.4 360.6 548.8 362.0C549.2 363.4 548.9 365.5 549.0 367.0C549.1 368.5 548.8 370.1 549.5 371.0C550.2 371.9 551.7 372.0 553.0 372.5C554.3 373.0 556.3 373.1 557.5 374.0C558.7 374.9 559.9 376.8 560.0 378.0C560.1 379.2 558.9 380.7 558.0 381.5C557.1 382.3 555.8 382.8 554.5 382.6C553.2 382.4 551.3 381.3 550.0 380.5C548.7 379.7 547.6 379.1 546.5 378.0C545.4 376.9 544.3 375.5 543.5 374.0C542.7 372.5 542.2 370.3 541.5 369.0C540.8 367.7 540.4 366.6 539.5 366.3C538.6 366.1 537.1 367.3 536.0 367.5C534.9 367.7 533.8 367.8 533.0 367.5C532.2 367.2 531.2 366.6 531.2 365.5Z M381.8 288.2C381.3 287.1 382.8 286.5 384.0 286.8C385.2 287.1 387.3 288.8 389.0 290.0C390.7 291.2 393.3 293.0 394.0 294.0C394.7 295.0 394.2 296.1 393.0 296.0C391.8 295.9 388.9 294.8 387.0 293.5C385.1 292.2 382.3 289.3 381.8 288.2Z M403.9 312.0C403.7 310.8 405.6 310.2 407.0 310.5C408.4 310.8 410.5 312.4 412.0 314.0C413.5 315.6 415.3 318.2 416.0 320.0C416.7 321.8 416.6 323.9 416.0 324.5C415.4 325.1 413.8 324.6 412.5 323.5C411.2 322.4 409.4 319.9 408.0 318.0C406.6 316.1 404.1 313.2 403.9 312.0Z M422.0 333.5C422.6 332.2 425.2 332.1 426.0 332.5C426.8 332.9 427.2 334.5 427.0 336.0C426.8 337.5 425.8 340.8 425.0 341.5C424.2 342.2 423.0 341.3 422.5 340.0C422.0 338.7 421.4 334.8 422.0 333.5Z M428.1 350.5C428.4 349.5 429.9 348.5 431.0 349.0C432.1 349.5 433.8 351.7 435.0 353.5C436.2 355.3 438.1 358.4 438.5 360.0C438.9 361.6 438.3 362.9 437.5 363.0C436.7 363.1 434.8 361.8 433.5 360.5C432.2 359.2 430.4 356.7 429.5 355.0C428.6 353.3 427.9 351.5 428.1 350.5Z M442.0 366.0C442.2 365.5 443.2 365.2 444.0 366.0C444.8 366.8 446.8 370.0 447.0 371.0C447.2 372.0 446.2 372.3 445.5 372.0C444.8 371.7 443.6 370.0 443.0 369.0C442.4 368.0 441.8 366.5 442.0 366.0Z M449.0 375.0C448.8 373.8 450.0 373.7 451.0 374.5C452.0 375.3 453.8 378.2 455.0 380.0C456.2 381.8 458.1 384.4 458.3 385.5C458.6 386.6 457.5 387.1 456.5 386.5C455.5 385.9 453.8 383.9 452.5 382.0C451.2 380.1 449.2 376.2 449.0 375.0Z M336.6 117.0C337.2 116.3 338.6 115.1 339.2 115.8C339.8 116.5 340.5 118.6 340.5 121.0C340.5 123.4 339.6 126.8 339.0 130.0C338.4 133.2 337.9 136.7 337.2 140.0C336.5 143.3 335.8 147.9 335.0 150.0C334.2 152.1 333.1 153.0 332.5 152.5C331.9 152.0 331.4 149.4 331.5 147.0C331.6 144.6 332.5 141.2 333.0 138.0C333.5 134.8 334.1 131.0 334.5 128.0C334.9 125.0 335.2 121.8 335.6 120.0C336.0 118.2 336.0 117.7 336.6 117.0Z" fill="#696969"/><ellipse cx="417.5" cy="146" rx="1" ry="2.2" fill="#696969"/><ellipse cx="422.5" cy="144" rx="0.9" ry="1.8" fill="#696969"/><ellipse cx="419" cy="152.5" rx="1" ry="1.6" fill="#696969"/><ellipse cx="416" cy="158" rx="0.9" ry="1.5" fill="#696969"/><ellipse cx="421.5" cy="166" rx="1" ry="2" fill="#696969"/><ellipse cx="417.5" cy="175" rx="0.9" ry="1.6" fill="#696969"/><ellipse cx="420" cy="184" rx="0.8" ry="1.3" fill="#696969"/><ellipse cx="414.5" cy="166" rx="0.7" ry="1" fill="#696969"/><ellipse cx="424" cy="136" rx="0.8" ry="1.5" fill="#696969"/><ellipse cx="419.5" cy="124" rx="0.8" ry="1.3" fill="#696969"/><ellipse cx="427.5" cy="213" rx="1" ry="1.3" fill="#696969"/><ellipse cx="431" cy="218" rx="0.9" ry="1.1" fill="#696969"/><ellipse cx="436" cy="224" rx="1" ry="1.2" fill="#696969"/><ellipse cx="444.5" cy="232" rx="1.2" ry="1.2" fill="#696969"/><ellipse cx="442" cy="236.5" rx="0.8" ry="0.8" fill="#696969"/><ellipse cx="348.1" cy="33.1" rx="1.6" ry="1.1" fill="#696969"/><ellipse cx="575.3" cy="380.6" rx="6.5" ry="5.5" fill="#696969"/><ellipse cx="329.5" cy="162.5" rx="1.8" ry="2.5" fill="#696969"/><ellipse cx="351" cy="221" rx="2" ry="3" fill="#696969"/><ellipse cx="345.5" cy="204.5" rx="1.6" ry="1.6" fill="#696969"/><ellipse cx="340" cy="201" rx="1.2" ry="1.2" fill="#696969"/><ellipse cx="345" cy="217" rx="1" ry="1" fill="#696969"/><ellipse cx="580.3" cy="270.5" rx="2.8" ry="3" fill="#696969"/><ellipse cx="549.5" cy="282.5" rx="2" ry="1.8" fill="#696969"/><ellipse cx="543" cy="285" rx="1.2" ry="1.2" fill="#696969"/><ellipse cx="555" cy="194.8" rx="1.5" ry="1" fill="#696969"/><ellipse cx="485.6" cy="419.8" rx="2.2" ry="1.3" fill="#696969"/><ellipse cx="539.5" cy="500.8" rx="1.5" ry="1" fill="#696969"/><ellipse cx="407" cy="297.7" rx="1.5" ry="1.2" fill="#696969"/><ellipse cx="506.4" cy="157.7" rx="1.6" ry="2.2" fill="#696969"/><ellipse cx="513" cy="167" rx="1.5" ry="2" fill="#696969"/><ellipse cx="527" cy="317.8" rx="1.2" ry="1" fill="#696969"/><ellipse cx="421" cy="140" rx="1.5" ry="3" fill="#696969"/><ellipse cx="424" cy="152" rx="1.5" ry="3" fill="#696969"/><ellipse cx="420" cy="160" rx="1.2" ry="2.5" fill="#696969"/><ellipse cx="418" cy="170" rx="1.2" ry="2" fill="#696969"/><ellipse cx="416" cy="133" rx="1" ry="1.5" fill="#696969"/><ellipse cx="423" cy="128" rx="1" ry="2" fill="#696969"/><ellipse cx="419" cy="178" rx="1" ry="1.5" fill="#696969"/><ellipse cx="450" cy="222" rx="1" ry="1.5" fill="#696969"/><ellipse cx="449.6" cy="179.8" rx="1.5" ry="1.8" fill="#696969"/><ellipse cx="341" cy="107" rx="0.8" ry="0.8" fill="#696969"/><ellipse cx="333" cy="95" rx="0.7" ry="0.7" fill="#696969"/><path d="M602.3 216.6Q603.5 214 609 214" stroke="#555" stroke-width="0.9" fill="none"/><path d="M114 184.6L120 185.2L124 186.2L127 187.5" stroke="#696969" stroke-width="0.8" fill="none"/></g>
<path d="M50.6 653.3V13.6" fill="none" stroke="#111" stroke-width="1.2"/><path d="M50.1 14.1H609.5" fill="none" stroke="#111" stroke-width="1.1"/><path d="M609.5 13.6V653.9" fill="none" stroke="#111" stroke-width="1.8"/><path d="M610.4 653.3H50.0" fill="none" stroke="#111" stroke-width="1.5"/><line x1="46.6" y1="14.1" x2="50.6" y2="14.1" stroke="#000" stroke-width="1.2"/><text x="46.0" y="22.8" text-anchor="end" class="ax">20°</text><line x1="46.6" y1="173.9" x2="50.6" y2="173.9" stroke="#000" stroke-width="1.2"/><text x="46.0" y="182.6" text-anchor="end" class="ax">10°</text><line x1="46.6" y1="333.7" x2="50.6" y2="333.7" stroke="#000" stroke-width="1.2"/><text x="46.0" y="342.4" text-anchor="end" class="ax">0°</text><line x1="46.6" y1="493.5" x2="50.6" y2="493.5" stroke="#000" stroke-width="1.2"/><text x="46.0" y="502.2" text-anchor="end" class="ax">-10°</text><line x1="130.4" y1="653.3" x2="130.4" y2="657.3" stroke="#000" stroke-width="1.2"/><text x="131.4" y="677.8" text-anchor="middle" class="ax">80°</text><line x1="290.1" y1="653.3" x2="290.1" y2="657.3" stroke="#000" stroke-width="1.2"/><text x="291.1" y="677.8" text-anchor="middle" class="ax">90°</text><line x1="449.8" y1="653.3" x2="449.8" y2="657.3" stroke="#000" stroke-width="1.2"/><text x="450.8" y="677.8" text-anchor="middle" class="ax">100°</text><line x1="609.5" y1="653.3" x2="609.5" y2="657.3" stroke="#000" stroke-width="1.2"/><text x="610.5" y="677.8" text-anchor="middle" class="ax">110°</text>
<path d="M686.0 650.4V13.6" fill="none" stroke="#484848" stroke-width="1.8"/><path d="M685.5 14.1H1242.1" fill="none" stroke="#111" stroke-width="1.1"/><path d="M1242.1 13.6V651.0" fill="none" stroke="#111" stroke-width="1.8"/><path d="M1243.0 650.4H685.1" fill="none" stroke="#111" stroke-width="1.3"/><line x1="682.4" y1="14.1" x2="686.0" y2="14.1" stroke="#000" stroke-width="1.2"/><text x="681.4" y="22.8" text-anchor="end" class="ax">20°</text><line x1="682.4" y1="173.2" x2="686.0" y2="173.2" stroke="#000" stroke-width="1.2"/><text x="681.4" y="181.9" text-anchor="end" class="ax">10°</text><line x1="682.4" y1="332.2" x2="686.0" y2="332.2" stroke="#000" stroke-width="1.2"/><text x="681.4" y="340.9" text-anchor="end" class="ax">0°</text><line x1="682.4" y1="491.3" x2="686.0" y2="491.3" stroke="#000" stroke-width="1.2"/><text x="681.4" y="500.0" text-anchor="end" class="ax">-10°</text><line x1="765.4" y1="650.4" x2="765.4" y2="654.0" stroke="#000" stroke-width="1.2"/><text x="766.4" y="674.9" text-anchor="middle" class="ax">80°</text><line x1="924.3" y1="650.4" x2="924.3" y2="654.0" stroke="#000" stroke-width="1.2"/><text x="925.3" y="674.9" text-anchor="middle" class="ax">90°</text><line x1="1083.2" y1="650.4" x2="1083.2" y2="654.0" stroke="#000" stroke-width="1.2"/><text x="1084.2" y="674.9" text-anchor="middle" class="ax">100°</text><line x1="1242.1" y1="650.4" x2="1242.1" y2="654.0" stroke="#000" stroke-width="1.2"/><text x="1243.1" y="674.9" text-anchor="middle" class="ax">110°</text>
<g><polyline points="145,356.4 138,356.4 162.6,381.4" fill="none" stroke="#333" stroke-width="0.7"/><polyline points="167.4,369 175.8,369" fill="none" stroke="#333" stroke-width="0.7"/><polyline points="237.6,296.5 242,296.5" fill="none" stroke="#333" stroke-width="0.7"/><polyline points="253.9,333.3 258,333.3" fill="none" stroke="#333" stroke-width="0.7"/><polyline points="333.8,333.3 343.5,333.3" fill="none" stroke="#333" stroke-width="0.7"/><polyline points="237.6,374 242,374" fill="none" stroke="#333" stroke-width="0.7"/><polyline points="246.5,372 247.3,377.6 255.3,378" fill="none" stroke="#333" stroke-width="0.7"/><polyline points="263.2,367.6 277.7,367.6" fill="none" stroke="#333" stroke-width="0.7"/><polyline points="233,205.3 237.3,205.3" fill="none" stroke="#333" stroke-width="0.7"/><polyline points="224.1,249.4 217.9,249.4 242.1,270" fill="none" stroke="#333" stroke-width="0.7"/><polyline points="126.1,411.3 130.3,411.3" fill="none" stroke="#333" stroke-width="0.7"/><polyline points="242.5,412.8 247.8,412.8" fill="none" stroke="#333" stroke-width="0.7"/><polyline points="285.4,493.2 289.7,493.2" fill="none" stroke="#333" stroke-width="0.7"/><polyline points="317.2,493.2 321.5,493.2" fill="none" stroke="#333" stroke-width="0.7"/><polyline points="348.5,493.2 351.7,493.2" fill="none" stroke="#333" stroke-width="0.7"/><polyline points="237.2,528.4 242,528.4" fill="none" stroke="#333" stroke-width="0.7"/><polyline points="237.2,573.2 242,573.2" fill="none" stroke="#333" stroke-width="0.7"/><polyline points="315.2,302.6 318.8,302.6" fill="none" stroke="#333" stroke-width="0.7"/><polyline points="285.6,333.3 289,333.3" fill="none" stroke="#333" stroke-width="0.7"/><polyline points="242.5,345 245.6,361.7" fill="none" stroke="#333" stroke-width="0.7" stroke-dasharray="3 2"/><rect x="121.2" y="296.2" width="4.9" height="13.4" fill="#d8141c"/><rect x="126.1" y="309.1" width="5.3" height="2.3" fill="#2a5fb8"/><rect x="130.3" y="306.1" width="5.5" height="4.2" fill="#72e62e" stroke="#3f8a22" stroke-width="0.6"/><rect x="121.2" y="325.0" width="4.9" height="14.6" fill="#d8141c"/><rect x="126.1" y="339.6" width="4.8" height="7.9" fill="#2a5fb8"/><rect x="130.3" y="326.7" width="5.5" height="12.9" fill="#72e62e" stroke="#3f8a22" stroke-width="0.6"/><rect x="121.2" y="373.3" width="4.9" height="14.4" fill="#d8141c"/><rect x="126.1" y="373.0" width="4.9" height="2.2" fill="#2a5fb8"/><rect x="130.3" y="373.3" width="5.5" height="12.3" fill="#72e62e" stroke="#3f8a22" stroke-width="0.6"/><rect x="169.1" y="333.8" width="4.6" height="10.6" fill="#d8141c"/><rect x="173.7" y="332.6" width="4.8" height="1.7" fill="#2a5fb8"/><rect x="178.0" y="333.3" width="5.2" height="11.1" fill="#72e62e" stroke="#3f8a22" stroke-width="0.6"/><rect x="200.5" y="333.8" width="5.3" height="14.6" fill="#d8141c"/><rect x="205.8" y="333.0" width="5.2" height="2.5" fill="#2a5fb8"/><rect x="210.8" y="333.3" width="5.1" height="6.3" fill="#72e62e" stroke="#3f8a22" stroke-width="0.6"/><rect x="162.1" y="342.1" width="5.3" height="25.2" fill="#72e62e" stroke="#3f8a22" stroke-width="0.6"/><rect x="152.9" y="361.1" width="4.9" height="5.7" fill="#d8141c"/><rect x="157.3" y="366.8" width="5.3" height="3.7" fill="#2a5fb8"/><rect x="182.9" y="360.8" width="9.7" height="1.7" fill="#2a5fb8"/><rect x="192.6" y="360.2" width="5.3" height="17.3" fill="#72e62e" stroke="#3f8a22" stroke-width="0.6"/><rect x="232.3" y="291.5" width="5.3" height="5.0" fill="#d8141c"/><rect x="242.0" y="296.5" width="5.9" height="26.4" fill="#72e62e" stroke="#3f8a22" stroke-width="0.6"/><rect x="248.7" y="313.2" width="5.2" height="19.9" fill="#d8141c"/><rect x="257.9" y="326.4" width="5.7" height="7.1" fill="#72e62e" stroke="#3f8a22" stroke-width="0.6"/><rect x="280.3" y="329.4" width="5.3" height="4.1" fill="#d8141c"/><rect x="288.8" y="333.1" width="6.7" height="2.2" fill="#72e62e" stroke="#3f8a22" stroke-width="0.6"/><rect x="309.0" y="301.7" width="6.2" height="2.7" fill="#d8141c"/><rect x="318.8" y="295.6" width="4.9" height="7.0" fill="#72e62e" stroke="#3f8a22" stroke-width="0.6"/><rect x="329.0" y="318.0" width="4.8" height="15.1" fill="#d8141c"/><rect x="339.0" y="333.0" width="4.5" height="1.5" fill="#72e62e" stroke="#3f8a22" stroke-width="0.6"/><rect x="242.0" y="363.3" width="5.7" height="10.7" fill="#72e62e" stroke="#3f8a22" stroke-width="0.6"/><rect x="232.3" y="374.0" width="5.3" height="18.4" fill="#d8141c"/><rect x="263.2" y="367.6" width="4.8" height="16.8" fill="#d8141c"/><rect x="272.4" y="367.6" width="5.3" height="23.0" fill="#72e62e" stroke="#3f8a22" stroke-width="0.6"/><rect x="241.7" y="71.5" width="5.8" height="38.4" fill="#72e62e" stroke="#3f8a22" stroke-width="0.6"/><rect x="232.4" y="105.5" width="4.9" height="4.4" fill="#d8141c"/><rect x="237.3" y="109.9" width="5.3" height="1.8" fill="#2a5fb8"/><rect x="232.0" y="172.2" width="5.3" height="4.3" fill="#d8141c"/><rect x="241.7" y="174.3" width="5.0" height="2.5" fill="#72e62e" stroke="#3f8a22" stroke-width="0.6"/><rect x="242.1" y="196.5" width="5.4" height="9.7" fill="#72e62e" stroke="#3f8a22" stroke-width="0.6"/><rect x="237.3" y="205.3" width="5.3" height="4.4" fill="#2a5fb8"/><rect x="242.1" y="237.0" width="5.4" height="19.4" fill="#72e62e" stroke="#3f8a22" stroke-width="0.6"/><rect x="232.4" y="251.5" width="4.9" height="4.9" fill="#d8141c"/><rect x="237.3" y="256.4" width="5.3" height="6.2" fill="#2a5fb8"/><rect x="289.9" y="269.8" width="5.3" height="7.7" fill="#d8141c"/><rect x="295.2" y="268.4" width="4.8" height="2.5" fill="#2a5fb8"/><rect x="300.0" y="269.3" width="4.9" height="14.0" fill="#72e62e" stroke="#3f8a22" stroke-width="0.6"/><rect x="120.8" y="411.5" width="5.3" height="30.2" fill="#d8141c"/><rect x="130.3" y="411.1" width="5.5" height="17.3" fill="#72e62e" stroke="#3f8a22" stroke-width="0.6"/><rect x="162.1" y="392.3" width="5.4" height="21.5" fill="#72e62e" stroke="#3f8a22" stroke-width="0.6"/><rect x="157.3" y="412.9" width="5.3" height="3.2" fill="#2a5fb8"/><rect x="152.4" y="413.8" width="5.3" height="20.8" fill="#d8141c"/><rect x="232.3" y="413.5" width="5.3" height="15.1" fill="#d8141c"/><rect x="237.6" y="413.7" width="5.4" height="6.6" fill="#2a5fb8"/><rect x="280.1" y="493.5" width="5.3" height="14.8" fill="#d8141c"/><rect x="289.7" y="493.0" width="5.3" height="25.7" fill="#72e62e" stroke="#3f8a22" stroke-width="0.6"/><rect x="311.9" y="493.5" width="5.3" height="14.8" fill="#d8141c"/><rect x="321.5" y="493.0" width="5.8" height="27.3" fill="#72e62e" stroke="#3f8a22" stroke-width="0.6"/><rect x="343.2" y="493.5" width="5.3" height="14.8" fill="#d8141c"/><rect x="351.7" y="493.0" width="6.0" height="10.6" fill="#72e62e" stroke="#3f8a22" stroke-width="0.6"/><rect x="232.5" y="528.2" width="4.7" height="8.5" fill="#d8141c"/><rect x="242.0" y="528.2" width="5.8" height="31.8" fill="#72e62e" stroke="#3f8a22" stroke-width="0.6"/><rect x="232.5" y="561.3" width="4.7" height="11.9" fill="#d8141c"/><rect x="242.0" y="573.2" width="5.8" height="24.4" fill="#72e62e" stroke="#3f8a22" stroke-width="0.6"/><circle cx="162.6" cy="381.4" r="1.3" fill="#1a2233"/><circle cx="242" cy="310.2" r="1.3" fill="#1a2233"/><circle cx="258.8" cy="334.4" r="1.3" fill="#1a2233"/><circle cx="290.2" cy="333.1" r="1.3" fill="#1a2233"/><circle cx="318.8" cy="302.6" r="1.3" fill="#1a2233"/><circle cx="338.2" cy="333.8" r="1.3" fill="#1a2233"/><circle cx="242" cy="342" r="1.3" fill="#1a2233"/><circle cx="241.7" cy="110.3" r="1.3" fill="#1a2233"/><circle cx="241.7" cy="176.8" r="1.3" fill="#1a2233"/><circle cx="242.1" cy="270" r="1.3" fill="#1a2233"/><circle cx="130.3" cy="410.3" r="1.3" fill="#1a2233"/><circle cx="242.5" cy="412.6" r="1.3" fill="#1a2233"/><circle cx="290.2" cy="492.5" r="1.3" fill="#1a2233"/><circle cx="322" cy="492.5" r="1.3" fill="#1a2233"/><circle cx="351" cy="492.5" r="1.3" fill="#1a2233"/><circle cx="241.2" cy="541.2" r="1.3" fill="#1a2233"/><circle cx="242.5" cy="572" r="1.3" fill="#1a2233"/><circle cx="130.5" cy="310.5" r="1.3" fill="#1a2233"/><circle cx="130.3" cy="333" r="1.3" fill="#1a2233"/><circle cx="131" cy="373.5" r="1.3" fill="#1a2233"/><circle cx="178.3" cy="332.8" r="1.3" fill="#1a2233"/><circle cx="211" cy="333.3" r="1.3" fill="#1a2233"/><circle cx="162.3" cy="349" r="1.3" fill="#1a2233"/><circle cx="242" cy="206" r="1.3" fill="#1a2233"/><circle cx="300" cy="268.8" r="1.3" fill="#1a2233"/></g>
<g><polyline points="867.3,75.3 860.6,75.3 876.4,94.7" fill="none" stroke="#333" stroke-width="0.7"/><polyline points="881.2,108 888.8,106" fill="none" stroke="#333" stroke-width="0.7"/><polyline points="894.1,110.2 898.5,110.2" fill="none" stroke="#333" stroke-width="0.7"/><polyline points="903.8,248.4 907.9,248.4" fill="none" stroke="#333" stroke-width="0.7"/><polyline points="934.4,268 939,268" fill="none" stroke="#333" stroke-width="0.7"/><polyline points="872.1,300.5 876.7,300.5" fill="none" stroke="#333" stroke-width="0.7"/><polyline points="967.9,331.4 971.6,331.4" fill="none" stroke="#333" stroke-width="0.7"/><polyline points="792.6,380.4 796.4,380.4" fill="none" stroke="#333" stroke-width="0.7"/><polyline points="872.3,372 876.3,372" fill="none" stroke="#333" stroke-width="0.7"/><polyline points="871.7,93.6 876.4,94.5" fill="none" stroke="#333" stroke-width="0.7"/><rect x="876.1" y="56.2" width="5.3" height="37.6" fill="#72e62e" stroke="#3f8a22" stroke-width="0.6"/><rect x="866.7" y="90.3" width="5.0" height="3.1" fill="#d8141c"/><rect x="866.4" y="120.2" width="4.7" height="21.2" fill="#d8141c"/><rect x="871.1" y="140.9" width="5.3" height="3.5" fill="#2a5fb8"/><rect x="875.6" y="103.5" width="5.6" height="38.3" fill="#72e62e" stroke="#3f8a22" stroke-width="0.6"/><rect x="889.1" y="110.2" width="5.0" height="3.5" fill="#d8141c"/><rect x="898.5" y="99.4" width="4.9" height="10.6" fill="#72e62e" stroke="#3f8a22" stroke-width="0.6"/><rect x="866.8" y="257.3" width="5.3" height="11.1" fill="#d8141c"/><rect x="871.7" y="268.4" width="5.3" height="4.8" fill="#2a5fb8"/><rect x="876.7" y="259.1" width="5.1" height="9.3" fill="#72e62e" stroke="#3f8a22" stroke-width="0.6"/><rect x="898.2" y="248.2" width="5.6" height="10.0" fill="#d8141c"/><rect x="907.9" y="248.2" width="5.3" height="22.0" fill="#72e62e" stroke="#3f8a22" stroke-width="0.6"/><rect x="924.3" y="258.2" width="5.1" height="10.2" fill="#d8141c"/><rect x="929.4" y="268.4" width="5.0" height="10.1" fill="#2a5fb8"/><rect x="866.8" y="291.2" width="5.3" height="9.3" fill="#d8141c"/><rect x="876.7" y="291.2" width="5.1" height="9.3" fill="#72e62e" stroke="#3f8a22" stroke-width="0.6"/><rect x="943.3" y="300.5" width="5.3" height="8.9" fill="#d8141c"/><rect x="948.6" y="300.3" width="4.8" height="3.7" fill="#2a5fb8"/><rect x="952.8" y="300.2" width="5.2" height="14.3" fill="#72e62e" stroke="#3f8a22" stroke-width="0.6"/><rect x="876.5" y="324.4" width="5.2" height="8.0" fill="#72e62e" stroke="#3f8a22" stroke-width="0.6"/><rect x="867.0" y="332.4" width="5.2" height="11.0" fill="#d8141c"/><rect x="872.2" y="331.8" width="4.3" height="2.4" fill="#2a5fb8"/><rect x="898.6" y="332.3" width="5.2" height="2.6" fill="#d8141c"/><rect x="903.5" y="332.0" width="4.9" height="2.9" fill="#2a5fb8"/><rect x="907.9" y="332.2" width="5.3" height="25.3" fill="#72e62e" stroke="#3f8a22" stroke-width="0.6"/><rect x="930.3" y="322.4" width="5.5" height="9.9" fill="#d8141c"/><rect x="935.5" y="331.4" width="5.0" height="4.1" fill="#2a5fb8"/><rect x="939.6" y="332.2" width="5.4" height="6.3" fill="#72e62e" stroke="#3f8a22" stroke-width="0.6"/><rect x="962.3" y="329.4" width="5.6" height="2.2" fill="#d8141c"/><rect x="971.6" y="331.2" width="5.3" height="21.1" fill="#72e62e" stroke="#3f8a22" stroke-width="0.6"/><rect x="756.4" y="334.7" width="5.6" height="7.9" fill="#d8141c"/><rect x="762.0" y="334.3" width="4.5" height="3.6" fill="#2a5fb8"/><rect x="766.1" y="334.3" width="5.3" height="13.3" fill="#72e62e" stroke="#3f8a22" stroke-width="0.6"/><rect x="781.4" y="342.1" width="4.8" height="6.7" fill="#d8141c"/><rect x="786.2" y="348.4" width="5.3" height="7.1" fill="#2a5fb8"/><rect x="791.1" y="348.4" width="5.0" height="4.8" fill="#72e62e" stroke="#3f8a22" stroke-width="0.6"/><rect x="803.1" y="332.6" width="5.3" height="10.9" fill="#d8141c"/><rect x="808.4" y="332.6" width="4.3" height="3.9" fill="#2a5fb8"/><rect x="812.3" y="332.6" width="5.8" height="25.0" fill="#72e62e" stroke="#3f8a22" stroke-width="0.6"/><rect x="833.5" y="333.8" width="5.3" height="7.9" fill="#d8141c"/><rect x="838.8" y="333.5" width="4.4" height="3.8" fill="#2a5fb8"/><rect x="842.8" y="333.5" width="5.3" height="10.9" fill="#72e62e" stroke="#3f8a22" stroke-width="0.6"/><rect x="756.4" y="372.1" width="5.3" height="12.9" fill="#d8141c"/><rect x="761.7" y="372.1" width="4.4" height="6.7" fill="#2a5fb8"/><rect x="765.7" y="372.1" width="4.6" height="24.3" fill="#72e62e" stroke="#3f8a22" stroke-width="0.6"/><rect x="787.6" y="380.5" width="5.0" height="13.8" fill="#d8141c"/><rect x="796.4" y="380.2" width="5.7" height="26.2" fill="#72e62e" stroke="#3f8a22" stroke-width="0.6"/><rect x="867.3" y="372.1" width="5.0" height="9.3" fill="#d8141c"/><rect x="876.3" y="371.7" width="5.7" height="27.9" fill="#72e62e" stroke="#3f8a22" stroke-width="0.6"/><rect x="755.9" y="411.5" width="5.3" height="5.3" fill="#d8141c"/><rect x="760.8" y="411.5" width="5.3" height="16.9" fill="#2a5fb8"/><rect x="765.7" y="402.4" width="4.6" height="9.6" fill="#72e62e" stroke="#3f8a22" stroke-width="0.6"/><rect x="787.6" y="411.6" width="5.0" height="12.0" fill="#d8141c"/><rect x="792.6" y="410.9" width="4.2" height="2.3" fill="#2a5fb8"/><rect x="796.8" y="411.5" width="5.3" height="27.0" fill="#72e62e" stroke="#3f8a22" stroke-width="0.6"/><rect x="867.4" y="444.3" width="4.6" height="6.2" fill="#d8141c"/><rect x="872.0" y="444.7" width="5.1" height="14.5" fill="#2a5fb8"/><rect x="876.4" y="437.3" width="5.6" height="7.2" fill="#72e62e" stroke="#3f8a22" stroke-width="0.6"/><rect x="867.4" y="470.3" width="4.6" height="5.0" fill="#d8141c"/><rect x="872.0" y="475.2" width="5.1" height="13.2" fill="#2a5fb8"/><rect x="876.4" y="466.4" width="5.6" height="8.8" fill="#72e62e" stroke="#3f8a22" stroke-width="0.6"/><rect x="889.1" y="480.3" width="4.8" height="11.1" fill="#d8141c"/><rect x="893.9" y="491.4" width="5.3" height="10.1" fill="#2a5fb8"/><rect x="898.3" y="455.3" width="5.3" height="36.1" fill="#72e62e" stroke="#3f8a22" stroke-width="0.6"/><rect x="946.4" y="478.2" width="5.3" height="13.2" fill="#d8141c"/><rect x="951.7" y="491.4" width="4.9" height="8.8" fill="#2a5fb8"/><rect x="956.1" y="475.2" width="5.0" height="16.2" fill="#72e62e" stroke="#3f8a22" stroke-width="0.6"/><rect x="975.5" y="478.2" width="5.3" height="13.2" fill="#d8141c"/><rect x="980.8" y="491.4" width="4.4" height="5.0" fill="#2a5fb8"/><rect x="985.2" y="455.3" width="5.3" height="36.1" fill="#72e62e" stroke="#3f8a22" stroke-width="0.6"/><circle cx="876.4" cy="94.7" r="1.3" fill="#1a2233"/><circle cx="907.9" cy="247.3" r="1.3" fill="#1a2233"/><circle cx="934.4" cy="267.9" r="1.3" fill="#1a2233"/><circle cx="876.7" cy="301.1" r="1.3" fill="#1a2233"/><circle cx="953" cy="299.5" r="1.3" fill="#1a2233"/><circle cx="908.4" cy="331.4" r="1.3" fill="#1a2233"/><circle cx="940" cy="331" r="1.3" fill="#1a2233"/><circle cx="972.3" cy="331" r="1.3" fill="#1a2233"/><circle cx="766.5" cy="333.3" r="1.3" fill="#1a2233"/><circle cx="797.3" cy="347.9" r="1.3" fill="#1a2233"/><circle cx="813.2" cy="331.5" r="1.3" fill="#1a2233"/><circle cx="843.2" cy="332.4" r="1.3" fill="#1a2233"/><circle cx="766.1" cy="371.2" r="1.3" fill="#1a2233"/><circle cx="796.8" cy="379.3" r="1.3" fill="#1a2233"/><circle cx="876.7" cy="370.8" r="1.3" fill="#1a2233"/><circle cx="876.3" cy="141.8" r="1.3" fill="#1a2233"/><circle cx="876.7" cy="268.4" r="1.3" fill="#1a2233"/><circle cx="876.5" cy="332.4" r="1.3" fill="#1a2233"/><circle cx="766" cy="411.8" r="1.3" fill="#1a2233"/><circle cx="797" cy="411" r="1.3" fill="#1a2233"/><circle cx="876.7" cy="444.5" r="1.3" fill="#1a2233"/><circle cx="876.7" cy="475.2" r="1.3" fill="#1a2233"/><circle cx="898.5" cy="491.4" r="1.3" fill="#1a2233"/><circle cx="956.3" cy="491.4" r="1.3" fill="#1a2233"/><circle cx="985.3" cy="491.4" r="1.3" fill="#1a2233"/></g>
<rect x="470.9" y="555.3" width="45.4" height="22.2" fill="#ff0000" stroke="#999" stroke-width="0.6"/><text x="522.5" y="574.4" class="lg">ΔDICp-d</text><rect x="470.9" y="581.5" width="45.4" height="22.2" fill="#1461e0" stroke="#999" stroke-width="0.6"/><text x="522.5" y="601.7" class="lg">ΔDICa-s</text><rect x="470.9" y="609.3" width="45.4" height="22.2" fill="#55ff00" stroke="#999" stroke-width="0.6"/><text x="522.5" y="627.9" class="lg">ΔDICbio</text>
<rect x="1096.2" y="554.1" width="45.4" height="22.2" fill="#ff0000" stroke="#999" stroke-width="0.6"/><text x="1146.2" y="572.8" class="lg">ΔDICp-d</text><rect x="1096.2" y="582.2" width="45.4" height="22.2" fill="#1461e0" stroke="#999" stroke-width="0.6"/><text x="1146.2" y="600.4" class="lg">ΔDICa-s</text><rect x="1096.2" y="610.1" width="45.4" height="22.2" fill="#55ff00" stroke="#999" stroke-width="0.6"/><text x="1146.2" y="627.9" class="lg">ΔDICbio</text>
<text x="62.8" y="636.6" class="pl">a</text>
<text x="698.4" y="636.2" class="pl">b</text>
</svg>
</body></html>
